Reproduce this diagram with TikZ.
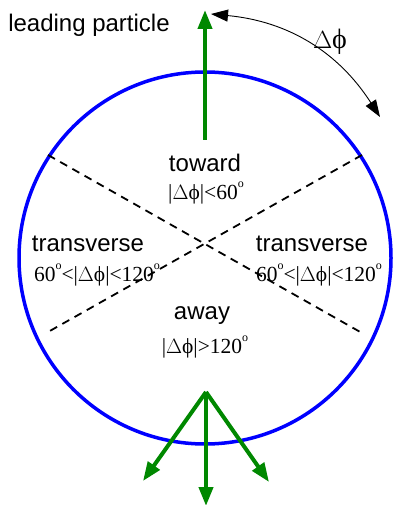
\documentclass[tikz,border=0pt]{standalone}
\usepackage{fontspec}
\setmainfont{Liberation Serif}
\setsansfont{Liberation Sans}
\usetikzlibrary{arrows.meta}
\definecolor{pgreen}{RGB}{0,136,0}
\definecolor{pblue}{RGB}{0,0,255}
\newcommand{\degs}{\raisebox{0.55em}{\fontsize{12}{12}\selectfont o}}
\newcommand{\dph}{$\Delta$\char"03D5}
\begin{document}
\begin{tikzpicture}[x=1pt,y=-1pt,
  lab/.style={font=\sffamily\fontsize{24}{26}\selectfont, inner sep=0pt},
  mth/.style={font=\rmfamily\fontsize{21.5}{24}\selectfont, inner sep=0pt},
  garrow/.style={pgreen, line width=4pt, -{Triangle[length=19pt,width=14pt]}},
  dashline/.style={black, line width=1.8pt, dash pattern=on 8pt off 6pt},
  darrow/.style={black, line width=0.9pt, {Triangle[length=17pt,width=12pt]}-{Triangle[length=17pt,width=12pt]}}]
\useasboundingbox (0,0) rectangle (392,505);
% circle
\node[draw=pblue, line width=3.5pt, circle, minimum size=372pt, inner sep=0pt] (ring) at (205,258) {};
% dashed separators
\coordinate (ul) at (48,155);
\coordinate (lr) at (362,333);
\coordinate (ur) at (362,155);
\coordinate (ll) at (48,332);
\draw[dashline] (ul) -- (lr);
\draw[dashline] (ur) -- (ll);
% leading particle arrow
\coordinate (ltail) at (205,140);
\coordinate (lhead) at (205,10);
\draw[garrow] (ltail) -- (lhead);
% away arrows
\coordinate (ao) at (206,392);
\coordinate (aleft) at (143,481);
\coordinate (amid) at (206,506);
\coordinate (aright) at (269,482);
\draw[garrow] (ao) -- (aleft);
\draw[garrow] (ao) -- (amid);
\draw[garrow] (ao) -- (aright);
% delta phi arc
\coordinate (da) at (211,14);
\coordinate (db) at (380,117);
\draw[darrow] (da) to[bend left=26] (db);
\node[mth, font=\rmfamily\fontsize{28}{30}\selectfont] (dphi) at (330,42) {\dph};
% labels
\node[lab] (lp) at (89,25) {leading particle};
\node[lab] (tw) at (205,163) {toward};
\node[mth] (twr) at (206,193) {|\dph|<60\degs};
\node[lab] (trl) at (88,244) {transverse};
\node[mth] (trlr) at (97,275) {60\degs<|\dph|<120\degs};
\node[lab] (trr) at (312,244) {transverse};
\node[mth] (trrr) at (319,275) {60\degs<|\dph|<120\degs};
\node[lab] (aw) at (202,316) {away};
\node[mth] (awr) at (205,347) {|\dph|>120\degs};
\end{tikzpicture}
\end{document}
